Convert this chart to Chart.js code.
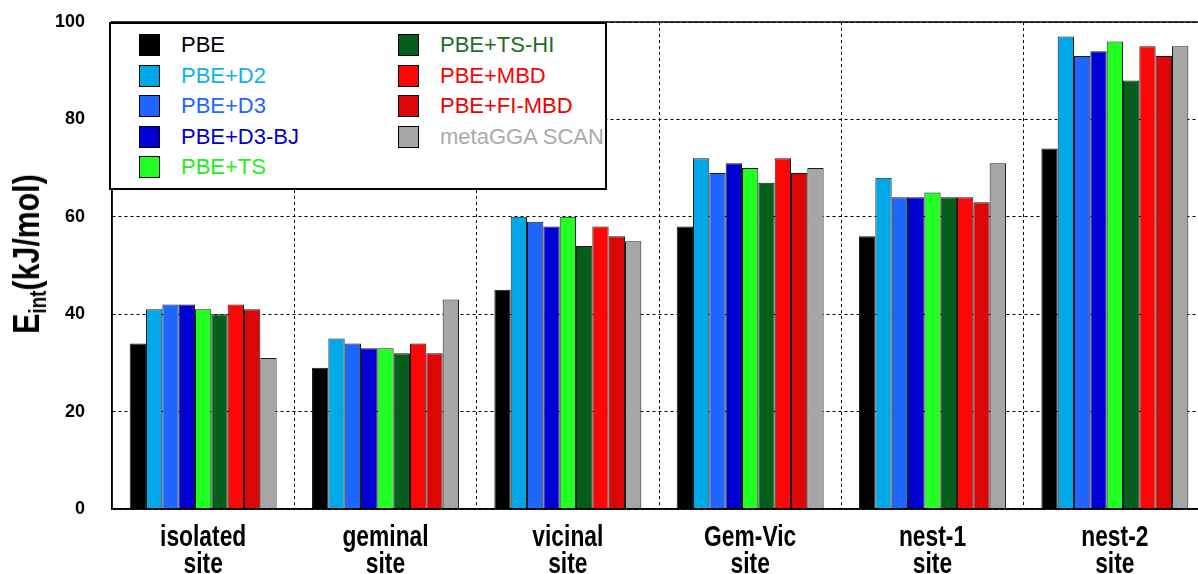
<!DOCTYPE html>
<html>
<head>
<meta charset="utf-8">
<script src="https://cdn.jsdelivr.net/npm/chart.js@4/dist/chart.umd.min.js"></script>
<style>
  html, body { margin: 0; padding: 0; background: #fff; overflow: hidden; }
  #wrap { position: relative; width: 1206px; height: 574px; }
  #yTitle {
    position: absolute; left: 29px; top: 254px;
    transform: translate(-50%, -50%) rotate(-90deg) scaleX(0.82);
    font: bold 37px 'Liberation Sans', Arial, sans-serif;
    white-space: nowrap; color: #000;
  }
  #yTitle sub { font-size: 23px; vertical-align: -7px; }
  #legend {
    position: absolute; left: 109px; top: 22px; width: 494px; height: 164px;
    border: 2px solid #000; background: #fff;
    font: 22px 'Liberation Sans', Arial, sans-serif;
  }
  .item { position: absolute; height: 22px; line-height: 22px; white-space: nowrap; }
  .item .sw { position: absolute; left: 0; top: 0; width: 19px; height: 20px; border: 1px solid #000; }
  .item .tx { position: absolute; left: 42px; top: 0; }
</style>
</head>
<body>
<div id="wrap">
  <canvas id="barChart"></canvas>
  <div id="yTitle">E<sub>int</sub>(kJ/mol)</div>
  <div id="legend"></div>
</div>
<script>
// カテゴリ
const categories = [
    ['isolated', 'site'], ['geminal', 'site'], ['vicinal', 'site'],
    ['Gem-Vic', 'site'], ['nest-1', 'site'], ['nest-2', 'site']
];
const yTicks = [0, 20, 40, 60, 80, 100];

// 各手法の相互作用エネルギー (kJ/mol)
const pbe      = [34, 29, 45, 58, 56, 74];
const pbeD2    = [41, 35, 60, 72, 68, 97];
const pbeD3    = [42, 34, 59, 69, 64, 93];
const pbeD3BJ  = [42, 33, 58, 71, 64, 94];
const pbeTS    = [41, 33, 60, 70, 65, 96];
const pbeTSHI  = [40, 32, 54, 67, 64, 88];
const pbeMBD   = [42, 34, 58, 72, 64, 95];
const pbeFIMBD = [41, 32, 56, 69, 63, 93];
const scan     = [31, 43, 55, 70, 71, 95];

const seriesNames = ['PBE', 'PBE+D2', 'PBE+D3', 'PBE+D3-BJ', 'PBE+TS',
    'PBE+TS-HI', 'PBE+MBD', 'PBE+FI-MBD', 'metaGGA SCAN'];
const seriesValues = [pbe, pbeD2, pbeD3, pbeD3BJ, pbeTS, pbeTSHI, pbeMBD, pbeFIMBD, scan];
const barColors = ['#000000', '#00a8e8', '#1f66ff', '#0000d4', '#22ff22',
    '#065e1c', '#ff0606', '#dc0606', '#a6a6a6'];
const textColors = ['#000000', '#11b0ee', '#2266ff', '#0000cc', '#22ee22',
    '#1a6e28', '#ff0000', '#ee0000', '#aaaaaa'];

// 枠線
const frame = {
    id: 'frame',
    afterDraw(chart) {
        const a = chart.chartArea, c = chart.ctx;
        c.save();
        c.strokeStyle = '#000';
        c.lineWidth = 1.5;
        c.strokeRect(a.left, a.top, a.right - a.left, a.bottom - a.top);
        c.restore();
    }
};

// x軸ラベル (縦長の字体に合わせて横方向を詰める)
const narrowLabels = {
    id: 'narrowLabels',
    afterDraw(chart) {
        const xs = chart.scales.x, c = chart.ctx;
        c.save();
        c.fillStyle = '#000';
        c.font = "bold 30px 'Liberation Sans', Arial";
        c.textAlign = 'center';
        c.textBaseline = 'alphabetic';
        categories.forEach((lines, i) => {
            const x = xs.getPixelForTick(i);
            lines.forEach((t, j) => {
                c.save();
                c.translate(x, xs.top + 37 + j * 27);
                c.scale(0.76, 1);
                c.fillText(t, 0, 0);
                c.restore();
            });
        });
        c.restore();
    }
};

function buildLegend() {
    const box = document.getElementById('legend');
    seriesNames.forEach((name, i) => {
        const col = i < 5 ? 0 : 1;
        const row = i < 5 ? i : i - 5;
        const el = document.createElement('div');
        el.className = 'item';
        el.style.left = (col === 0 ? 28 : 287) + 'px';
        el.style.top = (10 + row * 30.5) + 'px';
        el.innerHTML = '<span class="sw"></span><span class="tx"></span>';
        el.querySelector('.sw').style.background = barColors[i];
        el.querySelector('.tx').style.color = textColors[i];
        el.querySelector('.tx').textContent = name;
        box.appendChild(el);
    });
}

function createBarChart() {
    const ctx = document.getElementById('barChart').getContext('2d');
    new Chart(ctx, {
        type: 'bar',
        data: {
            labels: categories,
            datasets: seriesNames.map((name, i) => ({
                label: name,
                data: seriesValues[i],
                backgroundColor: barColors[i],
                borderColor: '#1a1a1a',
                borderWidth: 1,
                categoryPercentage: 0.806,
                barPercentage: 1.0
            }))
        },
        options: {
            responsive: true,
            maintainAspectRatio: false,
            animation: false,
            layout: { padding: { top: 22, left: 0, right: 0, bottom: 0 } },
            plugins: {
                legend: { display: false },
                tooltip: { enabled: false }
            },
            scales: {
                x: {
                    afterFit(scale) { scale.height = 65; },
                    grid: { color: '#000', lineWidth: 1, drawTicks: false },
                    border: { display: true, color: '#000', width: 1.5, dash: [3, 3] },
                    ticks: { display: false }
                },
                y: {
                    min: 0,
                    max: 100,
                    afterFit(scale) { scale.width = 112; },
                    afterBuildTicks(scale) { scale.ticks = yTicks.map(v => ({ value: v })); },
                    grid: { color: '#000', lineWidth: 1, drawTicks: true, tickLength: 27, tickColor: 'rgba(0,0,0,0)' },
                    border: { display: true, color: '#000', width: 1.5, dash: [3, 3] },
                    ticks: {
                        color: '#000',
                        padding: 0,
                        font: { family: "'Liberation Sans', Arial", size: 18, weight: 'bold' }
                    }
                }
            }
        },
        plugins: [frame, narrowLabels]
    });
}

buildLegend();
createBarChart();
</script>
</body>
</html>
